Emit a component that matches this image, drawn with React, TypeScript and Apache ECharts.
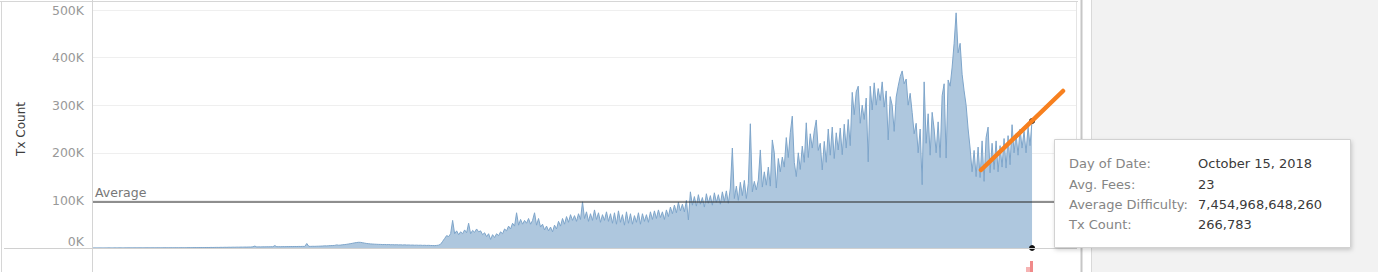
import React, { useEffect, useRef } from "react";
import * as echarts from "echarts";

// Daily Tx Count, sampled left to right across the date axis (values in thousands)
const txCount2009K = [
  0.1, 0.2, 0.1, 0.2, 0.2, 0.1, 0.2, 0.2, 0.3, 0.2, 0.2, 0.3, 0.2, 0.3, 0.3, 0.2, 0.3, 0.3, 0.4, 0.3,
  0.3, 0.4, 0.3, 0.4, 0.4, 0.3, 0.4, 0.5, 0.4, 0.4, 0.5, 0.4, 0.5, 0.5, 0.4, 0.5, 0.6, 0.5, 0.5, 0.6,
  0.5, 0.6, 0.6, 0.5, 0.7, 0.6, 0.6, 0.7,
];
const txCount2010K = [
  0.8, 0.7, 0.8, 0.9, 0.8, 0.9, 1.0, 0.9, 1.0, 1.1, 1.0, 1.2,
  1.1, 1.2, 1.3, 1.2, 1.4, 1.3, 1.5, 1.4, 1.6, 1.5, 1.7, 1.6, 1.8, 1.7, 1.9, 1.8, 2.0, 1.9, 2.1, 2.0,
  2.5, 4.0, 2.2, 2.4, 2.3, 2.5, 2.4, 2.6, 2.5, 2.7, 2.6, 5.0, 2.7, 2.8, 2.7, 2.9,
];
const txCount2011K = [
  2.8, 3.0, 2.9, 3.1,
  3.0, 3.2, 3.1, 3.3, 3.2, 3.4, 3.3, 9.5, 3.5, 3.4, 3.6, 3.5, 3.7, 3.8, 4.0, 4.2, 4.5, 4.4, 4.8, 5.0,
  5.2, 5.5, 6.5, 5.8, 6.2, 6.8, 7.2, 7.8, 8.5, 9.2, 10.0, 10.8, 11.5, 12.0, 11.8, 11.0, 10.2, 9.5, 9.0, 8.6,
  8.3, 8.0, 7.8, 7.6,
];
const txCount2012K = [
  7.5, 7.2, 7.4, 7.0, 7.3, 6.8, 7.0, 6.6, 6.9, 6.5, 6.7, 6.3, 6.6, 6.2, 6.4, 6.0,
  6.2, 5.8, 6.0, 5.7, 5.9, 5.5, 5.7, 5.4, 5.6, 5.3,
  5.2, 5.0, 5.4, 6.0, 8.0, 14, 20, 26, 24, 30,
  58, 30, 36, 28, 34, 30, 38, 32, 52, 30, 37, 33,
];
const txCount2013K = [
  40, 34, 36, 28, 32, 24, 30, 18,
  28, 22, 30, 26, 34, 30, 40, 36, 46, 40, 52, 46, 74, 48, 60, 50, 58, 52, 62, 50,
  58, 74, 48, 62, 44, 50, 38, 46, 36, 44, 34, 48, 40, 56, 46, 62, 50, 66, 54, 70,
];
const txCount2014K = [
  58, 68, 56, 72, 60, 97, 62, 76, 56, 72, 58, 80, 60, 74, 54, 70, 58, 76, 56, 72,
  52, 74, 50, 78, 54, 70, 48, 76, 52, 72, 50, 68, 54, 74, 50, 72, 56, 70, 54, 76,
  60, 78, 62, 80, 64, 76, 60, 80,
];
const txCount2015K = [
  66, 86, 72, 90, 74, 96, 78, 92, 76, 100, 59, 118,
  90, 108, 88, 112, 92, 106, 86, 114, 94, 110, 90, 116, 96, 112, 92, 118, 98, 120, 94, 126,
  210, 104, 130, 100, 138, 110, 142, 104, 136, 261, 118, 140, 122, 143, 206, 128,
];
const txCount2016K = [
  160, 132, 170, 130,
  227, 200, 126, 188, 160, 191, 170, 232, 190, 242, 277, 180, 150, 200, 165, 214, 180, 263, 190, 240,
  210, 246, 269, 205, 220, 164, 224, 180, 250, 195, 254, 188, 242, 206, 252, 196, 260, 210, 270, 215,
];
const txCount2017K = [
  327, 280, 328, 340, 262, 300, 270, 315, 181, 340, 290, 347, 300, 335, 310, 349, 296, 330, 227, 318,
  300, 245, 317, 340, 360, 372, 345, 355, 300, 325, 285, 240, 262, 200, 250, 133, 349, 220, 282, 195,
  285, 250, 200, 265, 190, 320, 345, 189, 353, 340, 380, 430,
];
const txCount2018K = [
  494, 410, 430, 365, 330, 300, 250, 210,
  160, 205, 150, 212, 148, 225, 140, 232, 254, 158, 220, 165, 225, 160, 215, 170, 230, 168, 236, 175,
  259, 200, 240, 195, 250, 210, 245, 200, 254, 215, 266.783,
];

// Empty date slots after the last day (axis runs past October 15, 2018)
const trailingEmptySlots = 22;

const averageTxCount = 97800;

const tooltipLabels = ["Day of Date:", "Avg. Fees:", "Average Difficulty:", "Tx Count:"];
const tooltipValues = ["October 15, 2018", "23", "7,454,968,648,260", "266,783"];

const FONT = "'DejaVu Sans', 'Open Sans', sans-serif";

export default function App() {
  const ref = useRef<HTMLDivElement>(null);

  useEffect(() => {
    if (!ref.current) return;
    const chart = echarts.init(ref.current, undefined, { renderer: "svg" });

    const txK = [
      ...txCount2009K,
      ...txCount2010K,
      ...txCount2011K,
      ...txCount2012K,
      ...txCount2013K,
      ...txCount2014K,
      ...txCount2015K,
      ...txCount2016K,
      ...txCount2017K,
      ...txCount2018K,
    ];
    const values: (number | null)[] = txK.map((v) => v * 1000);
    const lastIndex = values.length - 1;
    const lastValue = values[lastIndex] as number;
    for (let k = 0; k < trailingEmptySlots; k++) values.push(null);
    const categories = values.map((_, i) => String(i));

    const rowsY = [163, 184, 204, 224];

    const graphic: any[] = [
      // gray right panel
      { type: "rect", shape: { x: 1092, y: 0, width: 286, height: 272 }, style: { fill: "#f2f2f2" }, z: 1 },
      { type: "line", shape: { x1: 1091.5, y1: 0, x2: 1091.5, y2: 272 }, style: { stroke: "#d9d9d9", lineWidth: 1 }, z: 1 },
      { type: "line", shape: { x1: 1081.5, y1: 0, x2: 1081.5, y2: 272 }, style: { stroke: "#c6c6c6", lineWidth: 2 }, z: 1 },
      // frame
      { type: "line", shape: { x1: 0, y1: 1.5, x2: 1078, y2: 1.5 }, style: { stroke: "#d6d6d6", lineWidth: 1 }, z: 50 },
      { type: "line", shape: { x1: 1.5, y1: 1, x2: 1.5, y2: 272 }, style: { stroke: "#d6d6d6", lineWidth: 1 }, z: 50 },
      { type: "line", shape: { x1: 92.5, y1: 0, x2: 92.5, y2: 272 }, style: { stroke: "#d4d4d4", lineWidth: 1 }, z: 50 },
      { type: "line", shape: { x1: 1076.5, y1: 2, x2: 1076.5, y2: 248 }, style: { stroke: "#e4e4e4", lineWidth: 1 }, z: 50 },
      { type: "line", shape: { x1: 4, y1: 248.5, x2: 1077, y2: 248.5 }, style: { stroke: "#d0d0d0", lineWidth: 1 }, z: 50 },
      // hand-drawn orange annotation stroke
      {
        type: "line",
        shape: { x1: 981, y1: 170, x2: 1063, y2: 91 },
        style: { stroke: "#f7801f", lineWidth: 4.5, lineCap: "round" },
        z: 60,
      },
      // pink axis highlight below last day
      { type: "rect", shape: { x: 1030, y: 261, width: 3, height: 11 }, style: { fill: "#f08a8a" }, z: 60 },
      { type: "rect", shape: { x: 1026, y: 267, width: 4, height: 5 }, style: { fill: "#f6b3b3" }, z: 60 },
      // tooltip box
      {
        type: "rect",
        shape: { x: 1054.5, y: 139.5, width: 296, height: 108 },
        style: {
          fill: "#ffffff",
          stroke: "#d2d2d2",
          lineWidth: 1,
          shadowBlur: 4,
          shadowOffsetX: 1,
          shadowOffsetY: 2,
          shadowColor: "rgba(0,0,0,0.18)",
        },
        z: 100,
      },
    ];
    tooltipLabels.forEach((t, i) => {
      graphic.push({
        type: "text",
        x: 1069,
        y: rowsY[i],
        style: { text: t, fill: "#858585", font: `13px ${FONT}`, verticalAlign: "middle", align: "left" },
        z: 101,
      });
      graphic.push({
        type: "text",
        x: 1198,
        y: rowsY[i],
        style: { text: tooltipValues[i], fill: "#3a3a3a", font: `13px ${FONT}`, verticalAlign: "middle", align: "left" },
        z: 101,
      });
    });

    const option: any = {
      animation: false,
      backgroundColor: "#ffffff",
      grid: { left: 93, right: 302, top: 10, bottom: 24, containLabel: false },
      xAxis: {
        type: "category",
        data: categories,
        boundaryGap: false,
        axisLine: { show: false },
        axisTick: { show: false },
        axisLabel: { show: false },
        splitLine: { show: false },
      },
      yAxis: {
        type: "value",
        min: 0,
        max: 500000,
        interval: 100000,
        name: "Tx Count",
        nameLocation: "middle",
        nameGap: 66,
        nameRotate: 90,
        nameTextStyle: { color: "#3d3d3d", fontSize: 12, fontFamily: FONT },
        axisLine: { show: false },
        axisTick: { show: false },
        axisLabel: {
          formatter: (v: number) => `${v / 1000}K`,
          color: "#999",
          fontSize: 12.5,
          fontFamily: FONT,
          margin: 9,
          verticalAlignMinLabel: "bottom",
        },
        splitLine: { lineStyle: { color: "#efefef", width: 1 } },
      },
      series: [
        {
          type: "line",
          data: values,
          symbol: "none",
          showSymbol: false,
          connectNulls: false,
          lineStyle: { color: "#7ea5ca", width: 1 },
          areaStyle: { color: "#aec7de", opacity: 1 },
          z: 3,
          markLine: {
            silent: true,
            symbol: "none",
            lineStyle: { color: "rgba(50,50,50,0.55)", width: 2, type: "solid" },
            label: {
              show: true,
              position: "insideStartTop",
              formatter: "Average",
              color: "#777",
              fontSize: 12.5,
              fontFamily: FONT,
              distance: [2, 2],
            },
            data: [{ yAxis: averageTxCount }],
          },
          markPoint: {
            silent: true,
            symbol: "circle",
            symbolSize: 6,
            itemStyle: { color: "#111" },
            label: { show: false },
            data: [
              { coord: [lastIndex, lastValue] },
              { coord: [lastIndex, 0] },
            ],
          },
        },
      ],
      graphic,
    };

    chart.setOption(option);
    return () => chart.dispose();
  }, []);

  return (
    <div
      ref={ref}
      style={{ position: "absolute", left: 0, top: 0, width: 1378, height: 272, background: "#fff" }}
    />
  );
}
